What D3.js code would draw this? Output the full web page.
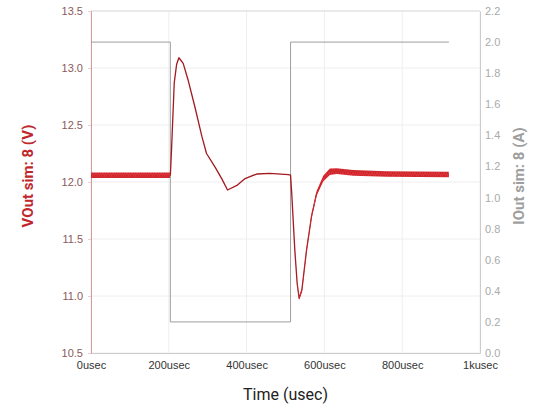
<!DOCTYPE html>
<html lang="en">
<head>
  <meta charset="UTF-8">
  <title>VOut / IOut</title>
  <style>
    body { margin: 0; background: #fff; }
    svg { font-family: Roboto, "Noto Sans", sans-serif; }
  </style>
</head>
<body>
<div id="chart"></div>
<script src="https://d3js.org/d3.v7.min.js"></script>
<script>
  // time points (usec) of the voltage trace
  var timeUs = [0, 203, 204, 207, 214, 220, 226, 237, 250, 267, 285, 297, 319, 336, 351, 375, 396, 426,
    460, 507, 513, 516, 524, 530, 535, 542, 554, 567, 580, 597, 614, 632, 674, 760, 920]
  // VOut (V)
  var vout = [12.06, 12.06, 12.06, 12.28, 12.87, 13.03, 13.09, 13.04, 12.89, 12.66, 12.40, 12.25, 12.13, 12.03,
    11.93, 11.97, 12.03, 12.07, 12.075, 12.065, 12.06, 11.90, 11.40, 11.11, 10.98, 11.05, 11.40, 11.70, 11.90,
    12.03, 12.09, 12.095, 12.08, 12.07, 12.065]
  // switching ripple, peak to peak (V)
  var ripple = [0.048, 0.048, 0, 0, 0, 0, 0, 0, 0, 0, 0, 0, 0, 0, 0, 0, 0, 0,
    0, 0, 0, 0, 0.01, 0.02, 0.03, 0.03, 0.03, 0.035, 0.04, 0.05, 0.055, 0.05, 0.05, 0.048, 0.048]
  // IOut load step (A)
  var iTime = [0, 204, 204, 513, 513, 920]
  var iout = [2.0, 2.0, 0.2, 0.2, 2.0, 2.0]

  var xTicks = [0, 200, 400, 600, 800, 1000]
  var xTickLabels = ['0usec', '200usec', '400usec', '600usec', '800usec', '1kusec']
  var vTicks = [10.5, 11.0, 11.5, 12.0, 12.5, 13.0, 13.5]
  var iTicks = [0, 0.2, 0.4, 0.6, 0.8, 1.0, 1.2, 1.4, 1.6, 1.8, 2.0, 2.2]

  var width = 543, height = 407
  var margin = {left: 91, right: 63, top: 11, bottom: 54}

  var svg = d3.select('#chart').append('svg')
    .attr('width', width)
    .attr('height', height)

  var x = d3.scaleLinear().domain([0, 1000]).range([margin.left, width - margin.right])
  var yV = d3.scaleLinear().domain([10.5, 13.5]).range([height - margin.bottom, margin.top])
  var yI = d3.scaleLinear().domain([0, 2.2]).range([height - margin.bottom, margin.top])

  // ripple hatch
  var pat = svg.append('defs').append('pattern')
    .attr('id', 'ripple')
    .attr('patternUnits', 'userSpaceOnUse')
    .attr('width', 2.4)
    .attr('height', 6)
  pat.append('rect').attr('width', 2.4).attr('height', 6).attr('fill', '#e8363c')
  pat.append('path').attr('d', 'M0,0L1.2,6L2.4,0')
    .attr('fill', 'none').attr('stroke', '#b3191f').attr('stroke-width', 0.6)

  // grid
  svg.append('g').selectAll('line.h').data(vTicks).enter().append('line')
    .attr('x1', x(0)).attr('x2', x(1000))
    .attr('y1', function (d) { return yV(d) }).attr('y2', function (d) { return yV(d) })
    .style('stroke', '#eeeeee').style('stroke-width', 1)
  svg.append('g').selectAll('line.v').data(xTicks).enter().append('line')
    .attr('x1', function (d) { return x(d) }).attr('x2', function (d) { return x(d) })
    .attr('y1', yV(10.5)).attr('y2', yV(13.5))
    .style('stroke', '#eeeeee').style('stroke-width', 1)

  // frame: top line
  svg.append('line')
    .attr('x1', x(0)).attr('x2', x(1000)).attr('y1', yV(13.5)).attr('y2', yV(13.5))
    .style('stroke', '#dddddd')

  // axes
  var xAxis = svg.append('g')
    .attr('transform', 'translate(0,' + yV(10.5) + ')')
    .call(d3.axisBottom(x).tickValues(xTicks).tickSize(0).tickPadding(8)
      .tickFormat(function (d, i) { return xTickLabels[i] }))
  xAxis.select('.domain').style('stroke', '#cccccc')
  xAxis.selectAll('text').style('font-size', '11px').style('fill', '#333')

  var leftAxis = svg.append('g')
    .attr('transform', 'translate(' + x(0) + ',0)')
    .call(d3.axisLeft(yV).tickValues(vTicks).tickSize(3).tickPadding(5).tickFormat(d3.format('.1f')))
  leftAxis.select('.domain').style('stroke', '#d49a9c')
  leftAxis.selectAll('line').style('stroke', '#e7d0d0')
  leftAxis.selectAll('text').style('font-size', '11px').style('fill', '#8a5a5c')

  var rightAxis = svg.append('g')
    .attr('transform', 'translate(' + x(1000) + ',0)')
    .call(d3.axisRight(yI).tickValues(iTicks).tickSize(0).tickPadding(5).tickFormat(d3.format('.1f')))
  rightAxis.select('.domain').style('stroke', '#cccccc')
  rightAxis.selectAll('text').style('font-size', '11px').style('fill', '#aaaaaa')

  // IOut step
  var iLine = d3.line()
    .x(function (d, i) { return x(iTime[i]) })
    .y(function (d) { return yI(d) })
  svg.append('path')
    .datum(iout)
    .attr('d', iLine)
    .style('fill', 'none')
    .style('stroke', '#9e9e9e')
    .style('stroke-width', 1)

  // VOut trace
  var vLine = d3.line()
    .x(function (d, i) { return x(timeUs[i]) })
    .y(function (d) { return yV(d) })
  svg.append('path')
    .datum(vout)
    .attr('d', vLine)
    .style('fill', 'none')
    .style('stroke', '#a3191f')
    .style('stroke-width', 1.3)
    .style('stroke-linejoin', 'round')

  // VOut ripple band on top
  var band = d3.area()
    .x(function (d, i) { return x(timeUs[i]) })
    .y0(function (d, i) { return yV(d - ripple[i] / 2) })
    .y1(function (d, i) { return yV(d + ripple[i] / 2) })
  svg.append('path')
    .datum(vout)
    .attr('d', band)
    .style('fill', 'url(#ripple)')

  // titles
  svg.append('text')
    .attr('transform', 'translate(33,' + (yV(12) - 6) + ') rotate(-90)')
    .attr('text-anchor', 'middle')
    .style('font-size', '15px').style('font-weight', 'bold').style('fill', '#c0272d')
    .text('VOut sim: 8 (V)')
  svg.append('text')
    .attr('transform', 'translate(524,' + (yV(12) - 6) + ') rotate(-90)')
    .attr('text-anchor', 'middle')
    .style('font-size', '15px').style('font-weight', 'bold').style('fill', '#9e9e9e')
    .text('IOut sim: 8 (A)')
  svg.append('text')
    .attr('x', (x(0) + x(1000)) / 2)
    .attr('y', 400)
    .attr('text-anchor', 'middle')
    .style('font-size', '16px').style('fill', '#222')
    .text('Time (usec)')
</script>
</body>
</html>
